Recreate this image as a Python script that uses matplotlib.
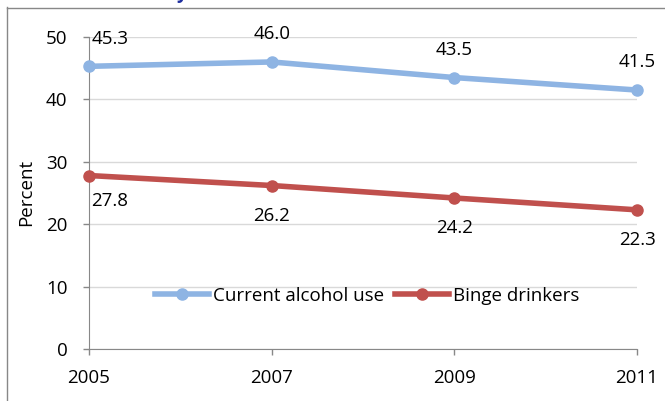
import matplotlib
matplotlib.use("Agg")
import matplotlib.pyplot as plt
from matplotlib.lines import Line2D

years = [2005, 2007, 2009, 2011]
current_use = [45.3, 46.0, 43.5, 41.5]
binge = [27.8, 26.2, 24.2, 22.3]
series_names = ["Current alcohol use", "Binge drinkers"]
yticks = [0, 10, 20, 30, 40, 50]

plt.rcParams['font.family'] = ['Open Sans', 'DejaVu Sans']
FS = 13.5
W, H = 665, 401
fig = plt.figure(figsize=(W/100, H/100), dpi=100)
ax = fig.add_axes([89/W, 1-349/H, (637-89)/W, (349-37)/H])

blue = '#8EB4E3'
red = '#C0504D'
ax.plot(years, current_use, color=blue, lw=4, marker='o', ms=8, label=series_names[0], zorder=3, clip_on=False)
ax.plot(years, binge, color=red, lw=4, marker='o', ms=8, label=series_names[1], zorder=3, clip_on=False)

px = 0.72  # points per pixel at 100 dpi
for i, (x, v) in enumerate(zip(years, current_use)):
    off = (21*px, 27*px) if i == 0 else (0, 28*px)
    ax.annotate(f"{v:.1f}", (x, v), xytext=off, textcoords='offset points',
                ha='center', va='center', fontsize=FS)
for i, (x, v) in enumerate(zip(years, binge)):
    off = (21*px, -25*px) if i == 0 else (0, -30*px)
    ax.annotate(f"{v:.1f}", (x, v), xytext=off, textcoords='offset points',
                ha='center', va='center', fontsize=FS)

ax.set_xlim(2005, 2011)
ax.set_ylim(0, 50)
ax.set_xticks(years)
ax.set_yticks(yticks)
ax.tick_params(axis='both', labelsize=FS, color='#888888', length=4.5, width=1)
ax.tick_params(axis='y', pad=11)
ax.tick_params(axis='x', pad=10)
ax.grid(axis='y', color='#d9d9d9', lw=1)
ax.set_axisbelow(True)
for s in ['top', 'right']:
    ax.spines[s].set_visible(False)
for s in ['left', 'bottom']:
    ax.spines[s].set_color('#888888')
ax.set_ylabel("Percent", fontsize=FS)
ax.yaxis.set_label_coords((35-89)/(637-89), (349-192)/(349-37))

leg = ax.legend(loc='center', bbox_to_anchor=((367-89)/(637-89), (349-296)/(349-37)),
                ncol=2, frameon=False, fontsize=FS, handlelength=2.9, handletextpad=0.2,
                columnspacing=0.6, borderaxespad=0, borderpad=0)

# chart frame (cut off at right and bottom)
fig.add_artist(Line2D([6.5/W, 6.5/W], [0, 1-7/H], color='#888888', lw=1))
fig.add_artist(Line2D([6.5/W, 1], [1-7.5/H, 1-7.5/H], color='#888888', lw=1))

# fragment of the cut-off title above the chart
fig.text(176/W, 1+2/H, "y", color='#1F2F9F', fontsize=FS, fontweight='bold',
         ha='left', va='baseline')

fig.savefig("out.png", dpi=100)
